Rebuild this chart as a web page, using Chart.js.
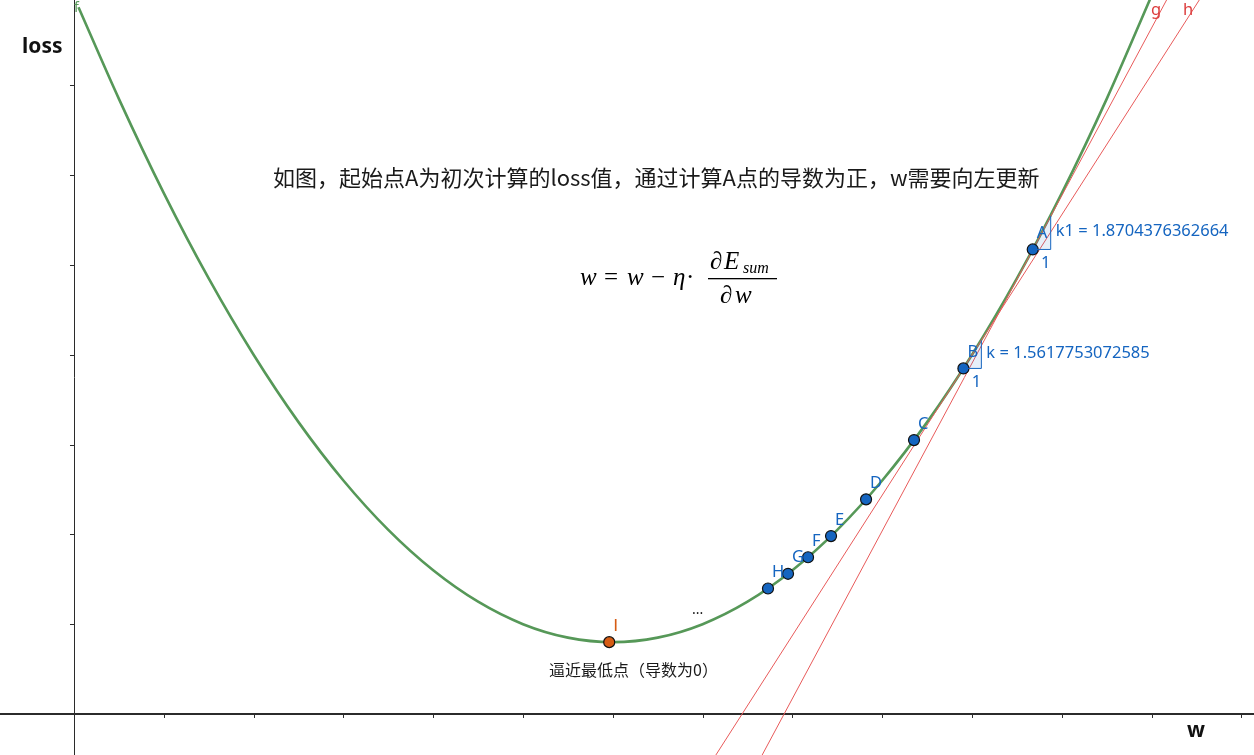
<!DOCTYPE html>
<html>
<head>
<meta charset="utf-8">
<script src="https://cdn.jsdelivr.net/npm/chart.js@4.4.1/dist/chart.umd.min.js"></script>
<style>
  html, body { margin: 0; padding: 0; background: #fff; }
  #wrap { width: 1254px; height: 755px; }
</style>
</head>
<body>
<div id="wrap"><canvas id="c" width="1254" height="755"></canvas></div>
<script>
// ---- data ----
const curveW    = [0.05, 0.5, 1, 1.5, 2, 2.5, 3, 3.5, 4, 4.5, 5, 5.5, 6, 6.5, 7, 7.5, 8, 8.5, 9, 9.5, 10, 10.5, 11, 11.5, 12];
const curveLoss = [7.87, 6.85, 5.80, 4.85, 4.00, 3.25, 2.60, 2.05, 1.60, 1.25, 1.00, 0.85, 0.80, 0.85, 1.00, 1.25, 1.60, 2.05, 2.60, 3.25, 4.00, 4.85, 5.80, 6.85, 8.00];

const pointNames = ['A', 'B', 'C', 'D', 'E', 'F', 'G', 'H'];
const stepW      = [10.676, 9.904, 9.354, 8.820, 8.430, 8.174, 7.951, 7.728];
const stepLoss   = [5.173, 3.848, 3.050, 2.390, 1.981, 1.745, 1.561, 1.397];

const minName = 'I';
const minW    = [5.96];
const minLoss = [0.80];

const slopeNames  = ['k1', 'k'];
const slopeValues = [1.8704376362664, 1.5617753072585];

const gW    = [7.64, 12.30];
const gLoss = [-0.5, 8.2];
const hW    = [7.12, 12.69];
const hLoss = [-0.5, 8.2];

const xTicks = [1, 2, 3, 4, 5, 6, 7, 8, 9, 10, 11, 12, 13];
const yTicks = [1, 2, 3, 4, 5, 6, 7];

const titleText = '如图，起始点A为初次计算的loss值，通过计算A点的导数为正，w需要向左更新';
const minText   = '逼近最低点（导数为0）';
const xTitle = 'w';
const yTitle = 'loss';

// ---- build ----
const zip = (xs, ys) => xs.map((x, i) => ({ x: x, y: ys[i] }));

const BLUE = 'rgb(21,101,192)';
const GREEN = 'rgb(86,152,88)';
const RED = 'rgb(232,90,90)';
const ORANGE = 'rgb(214,92,20)';
const LABEL_FONT = '16.5px "Noto Sans", "DejaVu Sans", sans-serif';

const overlay = {
  id: 'overlay',
  beforeDatasetsDraw(chart) {
    const ctx = chart.ctx;
    const xs = chart.scales.x, ys = chart.scales.y;
    const x0 = xs.getPixelForValue(0), y0 = ys.getPixelForValue(0);
    ctx.save();
    ctx.strokeStyle = '#2b2b2b';
    // x axis
    ctx.lineWidth = 2;
    ctx.beginPath(); ctx.moveTo(0, y0); ctx.lineTo(chart.width, y0); ctx.stroke();
    // y axis
    ctx.lineWidth = 1;
    ctx.beginPath(); ctx.moveTo(Math.round(x0) + 0.5, 0); ctx.lineTo(Math.round(x0) + 0.5, chart.height); ctx.stroke();
    // ticks
    ctx.lineWidth = 1;
    xTicks.forEach(v => {
      const px = Math.round(xs.getPixelForValue(v)) + 0.5;
      ctx.beginPath(); ctx.moveTo(px, y0); ctx.lineTo(px, y0 + 4); ctx.stroke();
    });
    yTicks.forEach(v => {
      const py = Math.round(ys.getPixelForValue(v)) + 0.5;
      ctx.beginPath(); ctx.moveTo(x0 - 4, py); ctx.lineTo(x0, py); ctx.stroke();
    });
    ctx.restore();
  },
  afterDatasetsDraw(chart) {
    const ctx = chart.ctx;
    const xs = chart.scales.x, ys = chart.scales.y;
    const P = (x, y) => [xs.getPixelForValue(x), ys.getPixelForValue(y)];
    ctx.save();

    // slope triangles at A and B
    const d = 0.2;
    [0, 1].forEach(i => {
      const wx = stepW[i], ly = stepLoss[i], k = slopeValues[i];
      const p1 = P(wx, ly), p2 = P(wx + d, ly), p3 = P(wx + d, ly + k * d);
      ctx.beginPath();
      ctx.moveTo(p1[0], p1[1]); ctx.lineTo(p2[0], p2[1]); ctx.lineTo(p3[0], p3[1]); ctx.closePath();
      ctx.fillStyle = 'rgba(21,101,192,0.10)';
      ctx.fill();
      ctx.strokeStyle = BLUE; ctx.lineWidth = 1;
      ctx.beginPath(); ctx.moveTo(p1[0], p1[1]); ctx.lineTo(p2[0], p2[1]); ctx.lineTo(p3[0], p3[1]); ctx.stroke();
      ctx.fillStyle = BLUE;
      ctx.font = LABEL_FONT;
      ctx.textBaseline = 'middle';
      ctx.textAlign = 'center';
      ctx.fillText('1', (p1[0] + p2[0]) / 2 + 4, p1[1] + 14);
      ctx.textAlign = 'left';
      ctx.fillText(slopeNames[i] + ' = ' + String(k), p2[0] + 5, (p2[1] + p3[1]) / 2 - 1);
    });

    // point labels
    ctx.font = LABEL_FONT;
    ctx.textAlign = 'left';
    ctx.textBaseline = 'middle';
    ctx.fillStyle = BLUE;
    pointNames.forEach((n, i) => {
      const p = P(stepW[i], stepLoss[i]);
      ctx.fillText(n, p[0] + 4, p[1] - 16);
    });
    ctx.fillStyle = ORANGE;
    const pi = P(minW[0], minLoss[0]);
    ctx.font = '16.5px "DejaVu Sans", sans-serif';
    ctx.fillText(minName, pi[0] + 4, pi[1] - 15);

    // line labels
    ctx.font = LABEL_FONT;
    ctx.fillStyle = 'rgb(220,60,60)';
    ctx.fillText('g', 1151, 10);
    ctx.fillText('h', 1183, 10);
    ctx.fillStyle = GREEN;
    ctx.font = '14px "Noto Sans", "DejaVu Sans", sans-serif';
    ctx.fillText('f', 74, 8);

    // axis titles
    ctx.fillStyle = '#111';
    ctx.font = 'bold 21px "Noto Sans", "DejaVu Sans", sans-serif';
    ctx.textAlign = 'left';
    ctx.fillText(yTitle, 22, 47);
    ctx.textAlign = 'center';
    ctx.fillText(xTitle, 1196, 731);

    // main text
    ctx.fillStyle = '#1a1a1a';
    ctx.font = '22px "Noto Sans CJK SC", "Noto Sans", sans-serif';
    ctx.textAlign = 'left';
    ctx.fillText(titleText, 273, 178);

    // bottom note
    ctx.font = '16px "Noto Sans CJK SC", "Noto Sans", sans-serif';
    ctx.fillText(minText, 549, 670);
    ctx.font = '14px "Noto Sans", sans-serif';
    ctx.fillText('...', 692, 610);

    // formula
    const serifI = 'italic 25px "Liberation Serif", "DejaVu Serif", serif';
    const serifR = '25px "Liberation Serif", "DejaVu Serif", serif';
    ctx.textBaseline = 'alphabetic';
    ctx.fillStyle = '#000';
    const base = 285;
    ctx.font = serifI; ctx.fillText('w', 580, base);
    ctx.font = serifR; ctx.fillText('=', 604, base);
    ctx.font = serifI; ctx.fillText('w', 627, base);
    ctx.font = serifR; ctx.fillText('−', 651, base);
    ctx.font = serifI; ctx.fillText('η', 673, base);
    ctx.font = serifR; ctx.fillText('·', 686, base);
    // fraction
    ctx.font = serifR; ctx.fillText('∂', 710, 269);
    ctx.font = serifI; ctx.fillText('E', 724, 269);
    ctx.font = 'italic 16px "Liberation Serif", "DejaVu Serif", serif';
    ctx.fillText('sum', 743, 273);
    ctx.fillRect(708, 278, 69, 1.3);
    ctx.font = serifR; ctx.fillText('∂', 720, 303);
    ctx.font = serifI; ctx.fillText('w', 735, 303);

    ctx.restore();
  }
};

const chart = new Chart(document.getElementById('c'), {
  type: 'scatter',
  data: {
    datasets: [
      {
        label: 'f',
        data: zip(curveW, curveLoss),
        showLine: true,
        borderColor: GREEN,
        borderWidth: 2.6,
        pointRadius: 0,
        cubicInterpolationMode: 'monotone',
        order: 5
      },
      {
        label: 'g',
        data: zip(gW, gLoss),
        showLine: true,
        borderColor: RED,
        borderWidth: 1,
        pointRadius: 0,
        order: 4
      },
      {
        label: 'h',
        data: zip(hW, hLoss),
        showLine: true,
        borderColor: RED,
        borderWidth: 1,
        pointRadius: 0,
        order: 4
      },
      {
        label: 'steps',
        data: zip(stepW, stepLoss),
        pointRadius: 5.5,
        pointBackgroundColor: BLUE,
        pointBorderColor: '#111',
        pointBorderWidth: 1.2,
        order: 1
      },
      {
        label: 'min',
        data: zip(minW, minLoss),
        pointRadius: 5.5,
        pointBackgroundColor: ORANGE,
        pointBorderColor: '#111',
        pointBorderWidth: 1.2,
        order: 1
      }
    ]
  },
  options: {
    responsive: false,
    animation: false,
    devicePixelRatio: 1,
    layout: { padding: 0, autoPadding: false },
    plugins: { legend: { display: false }, tooltip: { enabled: false } },
    scales: {
      x: { type: 'linear', min: -0.824, max: 13.140, display: false },
      y: { type: 'linear', min: -0.457, max: 7.951, display: false }
    }
  },
  plugins: [overlay]
});
</script>
</body>
</html>
